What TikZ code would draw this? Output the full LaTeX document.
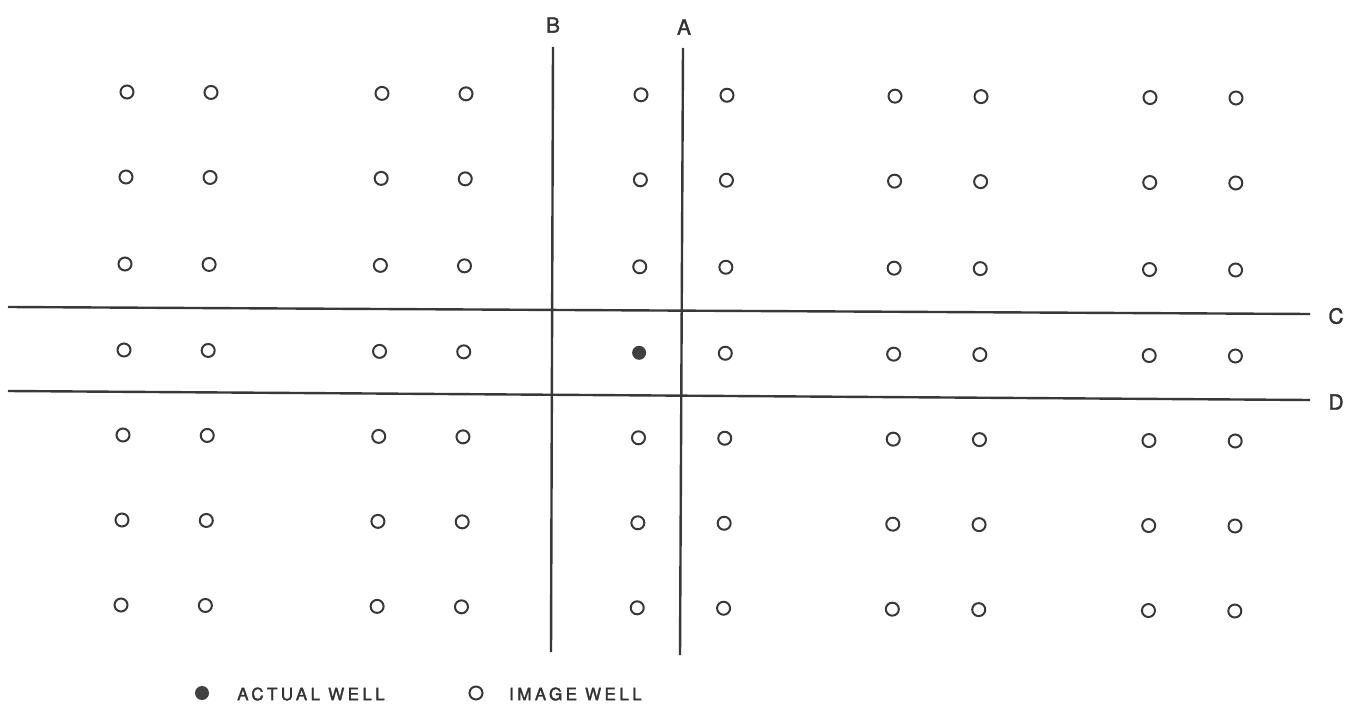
\documentclass[tikz,border=0pt]{standalone}
\usepackage{fontspec}
\setmainfont{TeX Gyre Heros}
\newfontfamily\legendfont[LetterSpace=20,FakeBold=2]{TeX Gyre Heros}
\newfontfamily\labelfont[FakeBold=1.5]{TeX Gyre Heros}
\begin{document}
\begin{tikzpicture}[x=1pt,y=-1pt,
  well/.style={circle,draw=black!78,line width=2pt,minimum size=13pt,inner sep=0pt},
  actual/.style={circle,fill=black!75,minimum size=14pt,inner sep=0pt},
  bline/.style={draw=black!78,line width=2.4pt},
  lab/.style={font=\labelfont\fontsize{21}{21}\selectfont,text=black!80,inner sep=0pt},
  leg/.style={font=\legendfont\fontsize{17}{17}\selectfont,text=black!80,inner sep=0pt,anchor=west}]
\useasboundingbox (0,0) rectangle (1356,706);
% wells
\foreach \r/\y in {1/92,2/177,3/264,4/350,5/435,6/520,7/605}{
  \foreach \c/\x in {1/127,2/211,3/382,4/466,5/641,6/727,7/895,8/981,9/1150,10/1236}{
    \pgfmathsetmacro{\px}{\x-(\r-1)*(1-(\x-127)/1109*0.8)}
    \pgfmathsetmacro{\py}{\y+(\x-127)*6/1109}
    \ifnum\r=4 \ifnum\c=5
      \node[actual] (w-\r-\c) at (\px,\py) {};
    \else
      \node[well] (w-\r-\c) at (\px,\py) {};
    \fi\else
      \node[well] (w-\r-\c) at (\px,\py) {};
    \fi
  }
}
% boundary lines
\coordinate (Bt) at (553,47); \coordinate (Bb) at (551,652);
\coordinate (At) at (683,48); \coordinate (Ab) at (680,655);
\coordinate (Cl) at (8,307); \coordinate (Cr) at (1310,314);
\coordinate (Dl) at (8,391); \coordinate (Dr) at (1310,400);
\draw[bline] (Bt) -- (Bb);
\draw[bline] (At) -- (Ab);
\draw[bline] (Cl) -- (Cr);
\draw[bline] (Dl) -- (Dr);
\node[lab] (B) at (553,25) {B};
\node[lab] (A) at (684,27) {A};
\node[lab] (C) at (1336,316) {C};
\node[lab] (D) at (1336,402) {D};
% legend
\node[actual] (la) at (202,693) {};
\node[leg] (lat) at (237,694) {ACTUAL WELL};
\node[well] (li) at (476,693) {};
\node[leg] (lit) at (509,694) {IMAGE WELL};
\end{tikzpicture}
\end{document}
